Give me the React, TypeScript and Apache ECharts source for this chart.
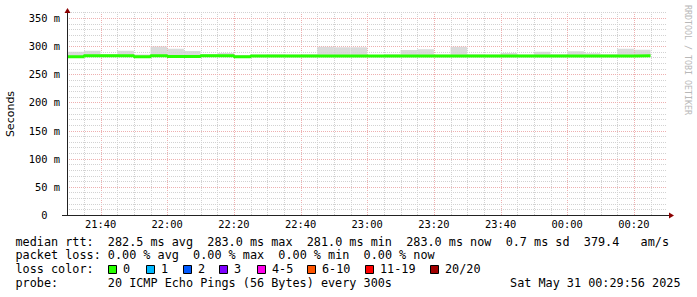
import React, { useEffect, useRef } from 'react';
import * as echarts from 'echarts';

// ---------- data ----------
const binStartTimes = [
  '21:30', '21:35', '21:40', '21:45', '21:50', '21:55', '22:00', '22:05', '22:10', '22:15',
  '22:20', '22:25', '22:30', '22:35', '22:40', '22:45', '22:50', '22:55', '23:00', '23:05',
  '23:10', '23:15', '23:20', '23:25', '23:30', '23:35', '23:40', '23:45', '23:50', '23:55',
  '00:00', '00:05', '00:10', '00:15', '00:20',
];
const binEndTime = '00:25';
const medianRtt = [
  281.0, 283.0, 283.0, 283.0, 281.0, 283.0, 281.5, 281.5, 283.0, 283.0,
  281.0, 282.5, 282.5, 282.5, 282.5, 282.5, 282.5, 282.5, 282.5, 282.5,
  282.5, 282.5, 282.5, 282.5, 282.5, 282.5, 282.5, 282.5, 282.5, 282.5,
  282.5, 282.5, 282.5, 282.5, 283.0,
];
const smokeHigh = [
  290, 292, 286, 292, 285, 299.5, 295.5, 291.5, 286, 288,
  284.5, 285, 285.5, 285, 285.5, 299, 298, 298, 284, 285.5,
  293, 294.5, 285, 299, 285.5, 285, 288, 285, 290, 285.5,
  291, 287.5, 285.5, 295.5, 293.5,
];
const smokeLow = [
  280, 281.5, 281.5, 281.5, 280, 281.5, 280, 280, 281.5, 281.5,
  280, 281, 281, 281, 281, 281, 281, 281, 281, 281,
  281, 281, 281, 281, 281, 281, 281, 281, 281, 281,
  281, 281, 281, 281, 281.5,
];
const xLabels = ['21:40', '22:00', '22:20', '22:40', '23:00', '23:20', '23:40', '00:00', '00:20'];
const yLabelValues = [0, 50, 100, 150, 200, 250, 300, 350];
const axisStart = '21:29:56';
const axisEnd = '00:29:56';

const legendMedian = 'median rtt:  282.5 ms avg  283.0 ms max  281.0 ms min  283.0 ms now  0.7 ms sd  379.4   am/s';
const legendLoss = 'packet loss: 0.00 % avg  0.00 % max  0.00 % min  0.00 % now';
const legendProbe = 'probe:       20 ICMP Echo Pings (56 Bytes) every 300s';
const legendDate = 'Sat May 31 00:29:56 2025';
const lossLabels = ['0', '1', '2', '3', '4-5', '6-10', '11-19', '20/20'];
const lossColors = ['#26ff00', '#00b8ff', '#0059ff', '#7e00ff', '#ff00ea', '#ff5500', '#ff0000', '#a10000'];
const lossBoxX = [108, 146, 183, 219, 257, 307, 365, 430];

// ---------- helpers ----------
const MONO = '"DejaVu Sans Mono", monospace';
function toSec(s: string): number {
  const p = s.split(':').map(Number);
  let v = p[0] * 3600 + p[1] * 60 + (p[2] || 0);
  if (p[0] < 12) v += 86400;
  return v;
}
function fmt(v: number): string {
  const s = ((v % 86400) + 86400) % 86400;
  const h = Math.floor(s / 3600);
  const m = Math.floor((s % 3600) / 60);
  return String(h).padStart(2, '0') + ':' + String(m).padStart(2, '0');
}
function tokens(line: string) {
  const out: { col: number; text: string }[] = [];
  const re = /\S+(?: \S+)*/g;
  let m: RegExpExecArray | null;
  while ((m = re.exec(line))) out.push({ col: m.index, text: m[0] });
  return out;
}

const MINOR = '#d2d2d2';
const MAJOR = '#eeb0b0';

export default function App() {
  const ref = useRef<HTMLDivElement>(null);
  useEffect(() => {
    if (!ref.current) return;
    const chart = echarts.init(ref.current, null, { renderer: 'svg' });

    const starts = binStartTimes.map(toSec);
    const ends = starts.slice(1).concat([toSec(binEndTime)]);
    const smokeData = starts.map((t, i) => [t, ends[i], smokeLow[i], smokeHigh[i]]);
    const medianData: number[][] = starts.map((t, i) => [t, medianRtt[i]]);
    medianData.push([ends[ends.length - 1], medianRtt[medianRtt.length - 1]]);

    const vGrid = ends.map((t) => [t, (Math.round((t % 3600) / 60) % 20 === 0) ? 1 : 0]);
    const hGrid: number[][] = [];
    for (let v = 10; v <= 360; v += 10) hGrid.push([v, v % 50 === 0 ? 1 : 0]);

    const LX0 = 15.5;
    const LFS = 11.8;
    const ADV = LFS * 0.602;
    const graphics: any[] = [];
    const addLine = (line: string, y: number) => {
      tokens(line).forEach((tk) => {
        graphics.push({
          type: 'text', x: LX0 + tk.col * ADV, y,
          style: { text: tk.text, fontFamily: MONO, fontSize: LFS, fill: '#000', verticalAlign: 'middle', align: 'left' },
        });
      });
    };
    addLine(legendMedian, 241.5);
    addLine(legendLoss, 255.3);
    addLine('loss color:', 269.2);
    addLine(legendProbe, 283);
    lossLabels.forEach((lab, i) => {
      graphics.push({
        type: 'rect', shape: { x: lossBoxX[i] + 0.5, y: 265.5, width: 8, height: 8 },
        style: { fill: lossColors[i], stroke: '#000', lineWidth: 1 },
      });
      graphics.push({
        type: 'text', x: lossBoxX[i] + 15, y: 269.2,
        style: { text: lab, fontFamily: MONO, fontSize: LFS, fill: '#000', verticalAlign: 'middle', align: 'left' },
      });
    });
    graphics.push({
      type: 'text', x: 680.5, y: 283,
      style: { text: legendDate, fontFamily: MONO, fontSize: LFS, fill: '#000', verticalAlign: 'middle', align: 'right' },
    });
    graphics.push({
      type: 'text', x: 10.5, y: 114, rotation: Math.PI / 2,
      style: { text: 'Seconds', fontFamily: '"DejaVu Sans", sans-serif', fontSize: 11, fill: '#000', align: 'center', verticalAlign: 'middle' },
    });
    graphics.push({
      type: 'text', x: 687.5, y: 5, rotation: -Math.PI / 2,
      style: { text: 'RRDTOOL / TOBI OETIKER', fontFamily: MONO, fontSize: 8.3, fill: '#b8b8b8', align: 'left', verticalAlign: 'middle' },
    });
    graphics.push({ type: 'line', shape: { x1: 62, y1: 215.5, x2: 669, y2: 215.5 }, style: { stroke: '#222', lineWidth: 1 }, z: 10 });
    graphics.push({ type: 'line', shape: { x1: 67.5, y1: 216, x2: 67.5, y2: 12 }, style: { stroke: '#222', lineWidth: 1 }, z: 10 });
    graphics.push({ type: 'polygon', shape: { points: [[67.5, 8], [64.5, 13], [70.5, 13]] }, style: { fill: '#8b0000' }, z: 11 });
    graphics.push({ type: 'polygon', shape: { points: [[674, 215.5], [669, 212.5], [669, 218.5]] }, style: { fill: '#8b0000' }, z: 11 });

    const option: any = {
      animation: false,
      backgroundColor: '#fff',
      grid: { left: 67, right: 30, top: 12.4, bottom: 82, containLabel: false },
      xAxis: {
        type: 'value', min: toSec(axisStart), max: toSec(axisEnd),
        axisLine: { show: false }, axisTick: { show: false }, splitLine: { show: false },
        axisLabel: {
          customValues: xLabels.map(toSec), formatter: (v: number) => fmt(v),
          margin: 4, fontFamily: MONO, fontSize: 10.4, color: '#000',
        },
      },
      yAxis: {
        type: 'value', min: 0, max: 360,
        axisLine: { show: false },
        axisTick: { show: false },
        splitLine: { show: false },
        axisLabel: {
          customValues: yLabelValues, margin: 7, fontFamily: MONO, fontSize: 10.4, color: '#000',
          formatter: (v: number) => (v === 0 ? '{z|0}' : v + ' m'),
          rich: { z: { padding: [0, 12.5, 0, 0], fontFamily: MONO, fontSize: 10.4, color: '#000' } },
        },
      },
      series: [
        {
          type: 'custom', z: 1, silent: true, clip: true,
          encode: { x: [0, 1], y: [2, 3] },
          data: smokeData,
          renderItem: (params: any, api: any) => {
            const p0 = api.coord([api.value(0), api.value(3)]);
            const p1 = api.coord([api.value(1), api.value(2)]);
            return {
              type: 'rect',
              shape: { x: p0[0], y: p0[1], width: p1[0] - p0[0], height: p1[1] - p0[1] },
              style: { fill: '#dadada' },
            };
          },
        },
        {
          type: 'custom', z: 2, silent: true,
          encode: { x: 0 },
          data: vGrid,
          renderItem: (params: any, api: any) => {
            const a = api.coord([api.value(0), 0]);
            const b = api.coord([api.value(0), 360]);
            const x = Math.round(a[0]) + 0.5;
            return {
              type: 'line',
              shape: { x1: x, y1: a[1], x2: x, y2: b[1] },
              style: { stroke: api.value(1) ? MAJOR : MINOR, lineWidth: 1, lineDash: [1, 1] },
            };
          },
        },
        {
          type: 'custom', z: 2, silent: true,
          encode: { y: 0 },
          data: hGrid,
          renderItem: (params: any, api: any) => {
            const a = api.coord([toSec(axisStart), api.value(0)]);
            const b = api.coord([toSec(axisEnd), api.value(0)]);
            const y = Math.round(a[1]) + 0.5;
            return {
              type: 'line',
              shape: { x1: a[0], y1: y, x2: b[0], y2: y },
              style: { stroke: api.value(1) ? MAJOR : MINOR, lineWidth: 1, lineDash: [1, 1] },
            };
          },
        },
        {
          type: 'line', z: 3, silent: true, step: 'end', symbol: 'none',
          data: medianData,
          lineStyle: { color: '#26ff00', width: 3 },
        },
      ],
      graphic: graphics,
    };
    chart.setOption(option);
    return () => chart.dispose();
  }, []);
  return (
    <div
      ref={ref}
      style={{ position: 'fixed', left: 0, top: 0, width: 697, height: 297, background: '#fff' }}
    />
  );
}
